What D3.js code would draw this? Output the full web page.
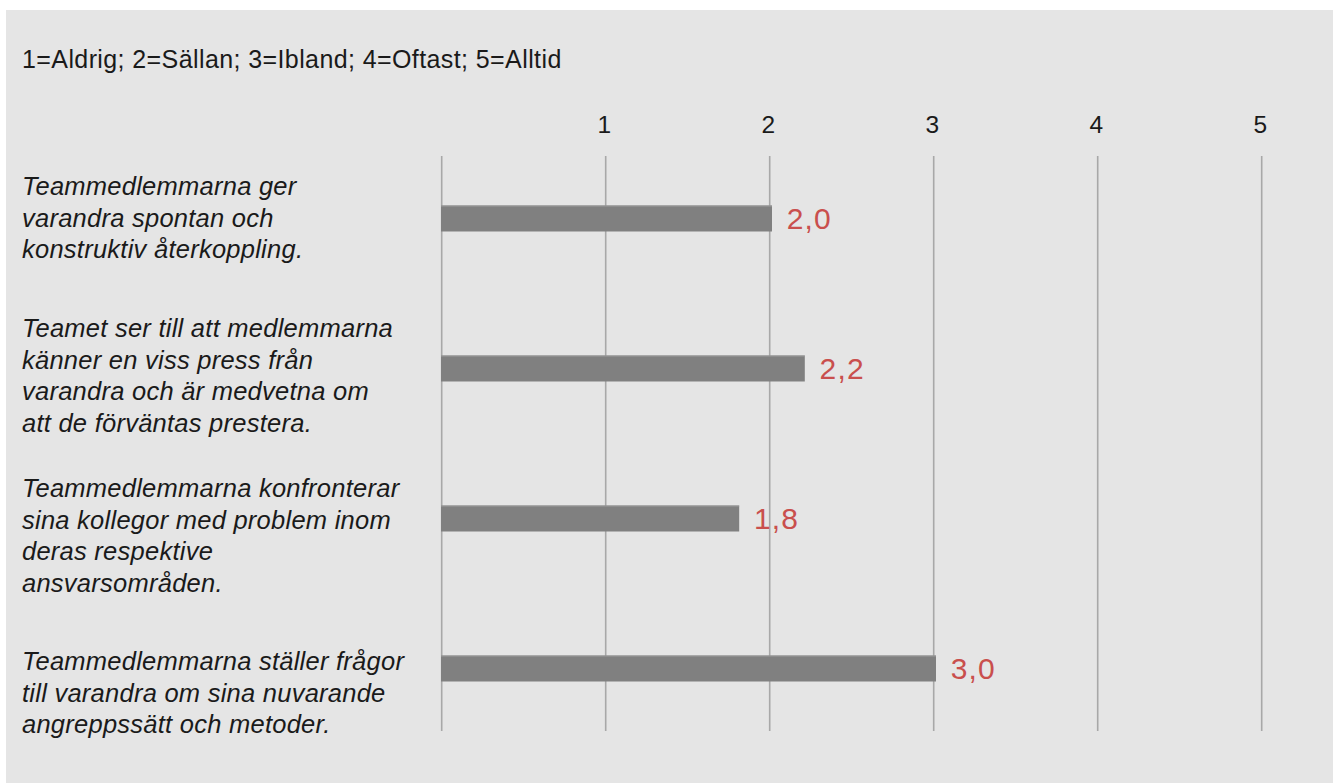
<!DOCTYPE html>
<html>
<head>
<meta charset="utf-8">
<script src="https://cdn.jsdelivr.net/npm/d3@7"></script>
<style>
  html, body { margin: 0; padding: 0; background: #ffffff; }
  svg { display: block; }
  text { font-family: "Liberation Sans", Arial, Helvetica, sans-serif; }
</style>
</head>
<body>
<script>
// Scale legend shown above the chart
const scaleNote = "1=Aldrig; 2=Sällan; 3=Ibland; 4=Oftast; 5=Alltid";

// Statements (each line of the wrapped label)
const statements = [
  ["Teammedlemmarna ger", "varandra spontan och", "konstruktiv återkoppling."],
  ["Teamet ser till att medlemmarna", "känner en viss press från", "varandra och är medvetna om", "att de förväntas prestera."],
  ["Teammedlemmarna konfronterar", "sina kollegor med problem inom", "deras respektive", "ansvarsområden."],
  ["Teammedlemmarna ställer frågor", "till varandra om sina nuvarande", "angreppssätt och metoder."]
];

// Mean score per statement
const scores = [2.0, 2.2, 1.8, 3.0];

// Axis ticks
const tickValues = [1, 2, 3, 4, 5];

const W = 1333, H = 783;
const svg = d3.select("body").append("svg").attr("width", W).attr("height", H);

// Panel background
svg.append("rect")
  .attr("x", 6).attr("y", 10)
  .attr("width", W - 6).attr("height", H - 10)
  .attr("fill", "#e5e5e5");

svg.append("text")
  .attr("x", 22).attr("y", 68)
  .attr("font-size", 25)
  .attr("letter-spacing", 0.4)
  .attr("fill", "#1a1a1a")
  .text(scaleNote);

const x = d3.scaleLinear().domain([0, 5]).range([441.7, 1261.7]);
const y = d3.scaleBand()
  .domain(d3.range(scores.length))
  .range([143.5, 743.5])
  .paddingInner(0.8267)
  .paddingOuter(0.4133);

// Vertical grid lines (0..5)
svg.append("g")
  .selectAll("line")
  .data([0].concat(tickValues))
  .join("line")
  .attr("x1", d => x(d)).attr("x2", d => x(d))
  .attr("y1", 156).attr("y2", 731)
  .attr("stroke", "#a8a8a8")
  .attr("stroke-width", 1.6);

// Tick labels along the top
const axis = d3.axisTop(x).tickValues(tickValues).tickSize(0).tickPadding(0).tickFormat(d3.format("d"));
const axisG = svg.append("g").attr("transform", "translate(-2,132.5)").call(axis);
axisG.select(".domain").remove();
axisG.selectAll("text")
  .attr("font-family", "Liberation Sans, Arial, sans-serif")
  .attr("font-size", 24.5)
  .attr("fill", "#1a1a1a")
  .attr("dy", 0);

// Bars
const bars = svg.append("g");
bars.selectAll("rect")
  .data(scores)
  .join("rect")
  .attr("x", x(0) - 0.7)
  .attr("y", (d, i) => y(i))
  .attr("width", d => x(d) - x(0) + 3)
  .attr("height", y.bandwidth())
  .attr("fill", "#808080");
bars.selectAll("line")
  .data(scores)
  .join("line")
  .attr("x1", x(0) - 0.7)
  .attr("x2", d => x(d) + 2.3)
  .attr("y1", (d, i) => y(i) + 0.5)
  .attr("y2", (d, i) => y(i) + 0.5)
  .attr("stroke", "#9c9c9c")
  .attr("stroke-width", 1);

// Value labels
const fmt = d => d3.format(".1f")(d).replace(".", ",");
svg.append("g")
  .selectAll("text")
  .data(scores)
  .join("text")
  .attr("x", d => x(d) + 17)
  .attr("y", (d, i) => y(i) + y.bandwidth() / 2 + 10.8)
  .attr("font-size", 30)
  .attr("letter-spacing", 1.2)
  .attr("fill", "#c94f4d")
  .text(fmt);

// Statement labels (first-line baselines, line height)
const labelTop = [195, 337, 497, 670];
const lineH = 31.6;
const labels = svg.append("g");
statements.forEach((lines, i) => {
  const t = labels.append("text")
    .attr("x", 22)
    .attr("y", labelTop[i])
    .attr("font-size", 25.5)
    .attr("letter-spacing", 0.25)
    .attr("font-style", "italic")
    .attr("fill", "#1a1a1a");
  lines.forEach((ln, k) => {
    t.append("tspan").attr("x", 22).attr("y", labelTop[i] + k * lineH).text(ln);
  });
});
</script>
</body>
</html>
